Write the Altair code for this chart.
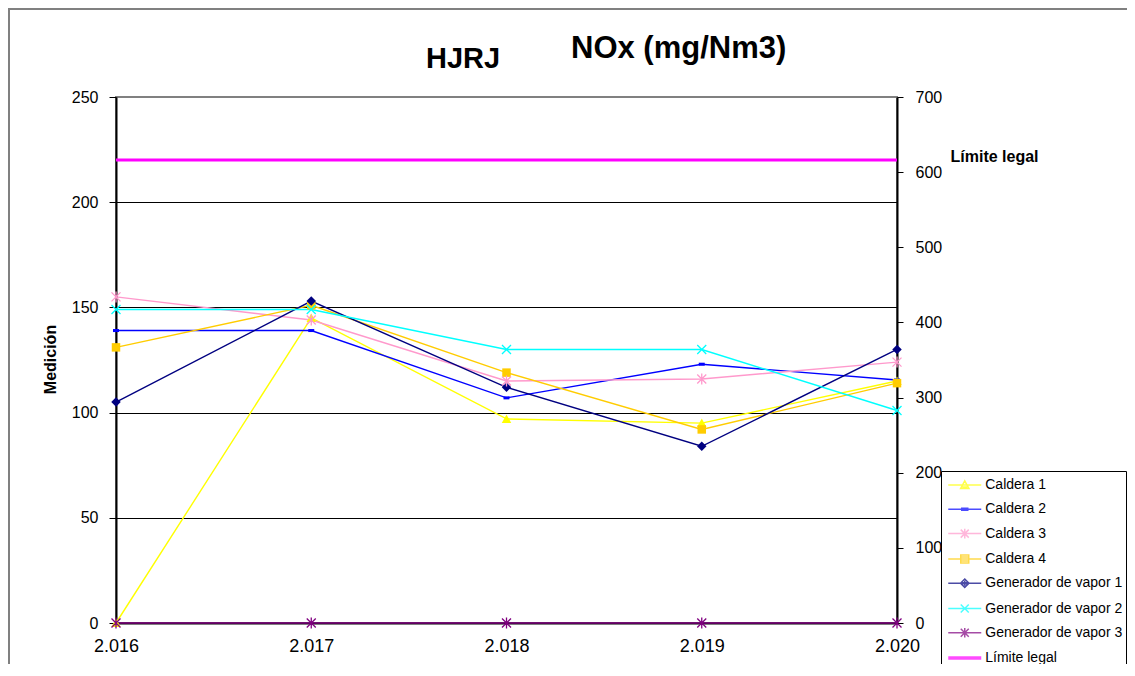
import altair as alt
import pandas as pd

# ---------------- data ----------------
years = [2016, 2017, 2018, 2019, 2020]
series = ["Caldera 1", "Caldera 2", "Caldera 3", "Caldera 4",
          "Generador de vapor 1", "Generador de vapor 2", "Generador de vapor 3"]
caldera_1 = [0, 145, 97, 95, 115]
caldera_2 = [139, 139, 107, 123, 115.5]
caldera_3 = [155, 144, 115, 116, 124]
caldera_4 = [131, 151, 119, 92, 114]
generador_1 = [105, 153, 112, 84, 130]
generador_2 = [149, 149, 130, 130, 101]
generador_3 = [0, 0, 0, 0, 0]
limite_label = "Límite legal"
limite_legal = [616, 616, 616, 616, 616]   # read on the right-hand axis
title_parts = ["HJRJ", "NOx (mg/Nm3)"]
y_title = "Medición"
left_ticks = [0, 50, 100, 150, 200, 250]
right_ticks = [0, 100, 200, 300, 400, 500, 600, 700]

colors = ["#FFFF00", "#0000FF", "#FF99CC", "#FFCC00", "#000080", "#00FFFF", "#800080"]
limit_color = "#FF00FF"
filled_series = ["Caldera 1", "Caldera 2", "Caldera 4", "Generador de vapor 1"]
stroked_series = ["Caldera 3", "Generador de vapor 2", "Generador de vapor 3"]

# marker shapes in the plot (unit square -1..1)
marker_paths = [
    "M0,-0.9L0.95,0.8L-0.95,0.8Z",                      # triangle
    "M-0.6,-0.3H0.6V0.3H-0.6Z",                          # small dash
    "M-0.9,-0.9L0.9,0.9M-0.9,0.9L0.9,-0.9M0,-1.1V1.1",   # asterisk
    "M-0.85,-0.85H0.85V0.85H-0.85Z",                     # square
    "M0,-0.95L0.95,0L0,0.95L-0.95,0Z",                   # diamond
    "M-0.9,-0.9L0.9,0.9M-0.9,0.9L0.9,-0.9",              # x
    "M-0.9,-0.9L0.9,0.9M-0.9,0.9L0.9,-0.9M0,-1.1V1.1",   # asterisk
]
# legend symbols: line + marker (stroked)
L = "M-1.65,0H1.65"
legend_paths = [
    L + "M-0.42,0.36L0,-0.42L0.42,0.36Z M-0.25,0.2H0.25M-0.12,0H0.12",
    L + "M-0.3,-0.1H0.3V0.1H-0.3Z",
    L + "M-0.4,-0.4L0.4,0.4M-0.4,0.4L0.4,-0.4M0,-0.48V0.48",
    L + "M-0.4,-0.4H0.4V0.4H-0.4ZM-0.4,-0.2H0.4M-0.4,0.2H0.4",
    L + "M0,-0.42L0.42,0L0,0.42L-0.42,0ZM0,-0.25V0.25M-0.15,-0.12V0.12M0.15,-0.12V0.12",
    L + "M-0.4,-0.4L0.4,0.4M-0.4,0.4L0.4,-0.4",
    L + "M-0.4,-0.4L0.4,0.4M-0.4,0.4L0.4,-0.4M0,-0.48V0.48",
    "M-1.65,-0.1H1.65M-1.65,0H1.65M-1.65,0.1H1.65",
]

values_by_series = [caldera_1, caldera_2, caldera_3, caldera_4,
                    generador_1, generador_2, generador_3]
rows = []
for s, vals in zip(series, values_by_series):
    for yr, v in zip(years, vals):
        rows.append({"year": yr, "serie": s, "value": v})
df = pd.DataFrame(rows)
df_lim = pd.DataFrame({"year": years, "limite": limite_legal})

FONT = "Liberation Sans"
W, H = 781, 526

x_enc = alt.X(
    "year:Q",
    scale=alt.Scale(domain=[years[0], years[-1]], nice=False, zero=False),
    axis=alt.Axis(values=years, title=None, grid=False, ticks=False, tickSize=0,
                  labelFlush=False, labelOverlap=False,
                  labelExpr="replace(format(datum.value, ','), ',', '.')",
                  labelFont=FONT, labelFontSize=18, labelColor="black",
                  labelPadding=14, domainColor="black", domainWidth=2),
)
y_enc = alt.Y(
    "value:Q",
    scale=alt.Scale(domain=[0, 250], nice=False),
    axis=alt.Axis(values=left_ticks, grid=True,
                  gridColor={"condition": {"test": "datum.value === 250", "value": "#808080"},
                             "value": "black"},
                  gridWidth=1, domainColor="black", domainWidth=2,
                  tickColor="black", tickSize=7, tickWidth=1,
                  labelFont=FONT, labelFontSize=16, labelColor="black", labelPadding=11,
                  title=y_title, titleFont=FONT, titleFontSize=16, titleFontWeight="bold",
                  titleColor="black", titleAngle=270, titleX=-61, titleY=262,
                  titleAlign="center", titleBaseline="alphabetic"),
)

color_plot = alt.Color("serie:N", scale=alt.Scale(domain=series, range=colors), legend=None)
shape_plot = alt.Shape("serie:N", scale=alt.Scale(domain=series, range=marker_paths), legend=None)

lines = alt.Chart(df).mark_line(strokeWidth=1.4).encode(
    x=x_enc, y=y_enc, color=color_plot, detail="serie:N")

filled_pts = alt.Chart(df).transform_filter(
    alt.FieldOneOfPredicate(field="serie", oneOf=filled_series)
).mark_point(filled=True, size=100, opacity=1).encode(
    x=x_enc, y=y_enc, color=color_plot, shape=shape_plot)

stroked_pts = alt.Chart(df).transform_filter(
    alt.FieldOneOfPredicate(field="serie", oneOf=stroked_series)
).mark_point(filled=False, size=100, opacity=1, strokeWidth=1.3).encode(
    x=x_enc, y=y_enc, color=color_plot, shape=shape_plot)

legend = alt.Legend(title=None, orient="none", legendX=825, legendY=374,
                    fillColor="white", strokeColor="black", padding=3,
                    symbolSize=400, symbolStrokeWidth=1.5, symbolOffset=9.75,
                    labelOffset=9.5, labelFont=FONT, labelFontSize=14,
                    labelColor="black", rowPadding=6.3, labelLimit=300)
legend_domain = series + [limite_label]
legend_layer = alt.Chart(df).transform_filter("false").mark_point(filled=False).encode(
    color=alt.Color("serie:N", scale=alt.Scale(domain=legend_domain, range=colors + [limit_color]),
                    legend=legend),
    shape=alt.Shape("serie:N", scale=alt.Scale(domain=legend_domain, range=legend_paths),
                    legend=legend),
)

inner = alt.layer(lines, filled_pts, stroked_pts, legend_layer).resolve_scale(
    color="independent", shape="independent")

limit = alt.Chart(df_lim).mark_line(strokeWidth=3, color=limit_color).encode(
    x=x_enc,
    y=alt.Y("limite:Q", scale=alt.Scale(domain=[0, 700], nice=False),
            axis=alt.Axis(orient="right", values=right_ticks, grid=False,
                          domainColor="black", domainWidth=2, tickColor="black",
                          tickSize=6, tickWidth=1, labelFont=FONT, labelFontSize=16,
                          labelColor="black", labelPadding=12,
                          title=limite_label, titleFont=FONT, titleFontSize=16,
                          titleFontWeight="bold", titleColor="black", titleAngle=0,
                          titleAlign="left", titleBaseline="alphabetic",
                          titleX=53, titleY=64)),
)

one = pd.DataFrame({"f": [1]})
frame = alt.Chart(one).mark_rect(filled=False, color="#808080", strokeWidth=2).encode(
    x=alt.value(-107), y=alt.value(-88), x2=alt.value(1030), y2=alt.value(590))

t1 = alt.Chart(one).mark_text(font=FONT, fontSize=29, fontWeight="bold", align="left",
                              baseline="alphabetic", color="black").encode(
    x=alt.value(310), y=alt.value(-29), text=alt.value(title_parts[0]))
t2 = alt.Chart(one).mark_text(font=FONT, fontSize=31, fontWeight="bold", align="left",
                              baseline="alphabetic", color="black").encode(
    x=alt.value(455), y=alt.value(-39), text=alt.value(title_parts[1]))

chart = alt.layer(frame, inner, limit, t1, t2).resolve_scale(y="independent").properties(
    width=W, height=H,
    padding={"left": 108, "top": 89, "right": 230, "bottom": 41},
    autosize=alt.AutoSizeParams(type="none"),
    background="white",
).configure_view(fill="#C0C0C0", stroke="#808080", strokeWidth=2)

chart.save("out.html", embed_options={"renderer": "svg", "actions": False})
